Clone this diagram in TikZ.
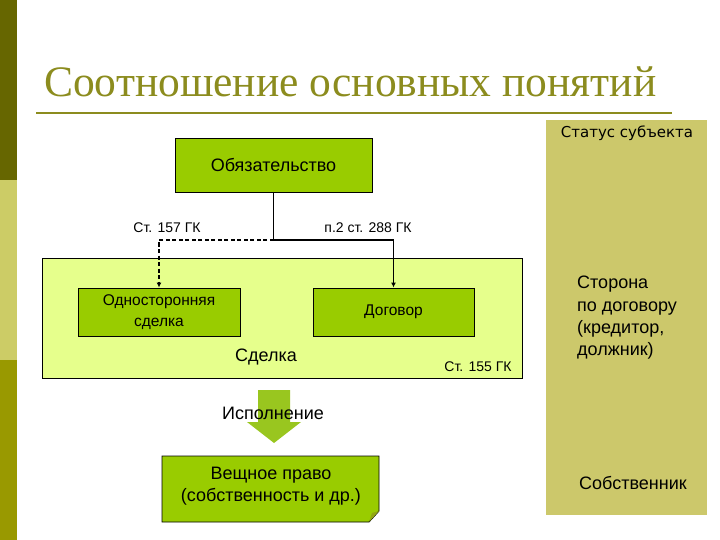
\documentclass[tikz,border=0pt]{standalone}
\usepackage{fontspec}
\usetikzlibrary{arrows.meta}
\setmainfont{Liberation Sans}
\newfontfamily\titlefont{Liberation Serif}
\newfontfamily\statusfont{DejaVu Sans}
\begin{document}
\begin{tikzpicture}[x=1pt,y=-1pt,
  greenbox/.style={draw=black, line width=0.9pt, fill=boxgreen, minimum width=#1, inner sep=0pt},
  lbl/.style={font=\fontsize{14}{16}\selectfont, inner sep=0pt},
  conn/.style={line width=1.6pt, -{Latex[length=5pt,width=5pt]}},
]
\definecolor{boxgreen}{HTML}{99CC00}
\definecolor{palegreen}{HTML}{E6FF8C}
\definecolor{olive}{HTML}{8C8C1E}
\definecolor{stripdark}{HTML}{666600}
\definecolor{striplight}{HTML}{CCCC66}
\definecolor{stripmid}{HTML}{999900}
\definecolor{panel}{HTML}{CCC86B}
\definecolor{arrowgreen}{HTML}{99C61F}
\useasboundingbox (0,0) rectangle (720,540);
\fill[white] (0,0) rectangle (720,540);
% left strip
\fill[stripdark] (0,0) rectangle (17,180);
\fill[striplight] (0,180) rectangle (17,360);
\fill[stripmid] (0,360) rectangle (17,540);
% title
\node[anchor=base west, text=olive, font=\titlefont\fontsize{43.5}{46}\selectfont, inner sep=0pt] (title) at (44,97) {Соотношение основных понятий};
\draw[olive, line width=2pt] (36,113.5) -- (672,113.5);
% right panel
\node[fill=panel, minimum width=161pt, minimum height=395pt, inner sep=0pt] (panel) at (626.5,317.5) {};
\node[font=\statusfont\fontsize{15}{17}\selectfont, inner sep=0pt] (status) at (627,133) {Статус субъекта};
\node[anchor=west, align=left, font=\fontsize{18}{22.3}\selectfont, inner sep=0pt] (side) at (577,318) {Сторона\\по договору\\(кредитор,\\должник)};
\node[font=\fontsize{18}{20}\selectfont, inner sep=0pt] (owner) at (633,483) {Собственник};
% boxes
\node[greenbox=197pt, minimum height=54pt, font=\fontsize{18}{20}\selectfont] (obl) at (273.5,165) {Обязательство};
\node[draw=black, line width=0.9pt, fill=palegreen, minimum width=480pt, minimum height=120pt, inner sep=0pt] (deal) at (282,318) {};
\node[greenbox=162pt, minimum height=48pt, align=center, font=\fontsize{15.5}{21}\selectfont] (odn) at (159,312) {Односторонняя\\сделка};
\node[greenbox=161pt, minimum height=48pt, font=\fontsize{15.5}{17}\selectfont] (dog) at (393.5,312) {Договор};
\node[font=\fontsize{18}{20}\selectfont, inner sep=0pt] (dealtxt) at (266,357) {Сделка};
\node[lbl] (c155) at (478,367) {Ст. 155 ГК};
% connectors
\coordinate (j) at (273.5,240);
\draw[line width=1.6pt] (obl.south) -- (j);
\draw[conn] (j) -| (dog.north);
\draw[conn, dashed, dash pattern=on 4pt off 2.5pt] (j) -| (odn.north);
\node[lbl] (c157) at (167,228) {Ст. 157 ГК};
\node[lbl] (c288) at (368,228) {п.2 ст. 288 ГК};
% block arrow
\fill[arrowgreen] (258,390) -- (290,390) -- (290,422) -- (301,422) -- (274,443) -- (247,422) -- (258,422) -- cycle;
\node[font=\fontsize{18}{20}\selectfont, inner sep=0pt] (isp) at (273,413) {Исполнение};
% Вещное право box with folded corner
\draw[fill=boxgreen, line width=0.9pt] (162,456) -- (379,456) -- (379,511) -- (369,522) -- (162,522) -- cycle;
\fill[olive!60!boxgreen] (379,511) -- (369,522) -- (372,513) -- cycle;
\node[align=center, font=\fontsize{18}{22}\selectfont, inner sep=0pt] (vesch) at (271,486) {Вещное право\\(собственность и др.)};
\end{tikzpicture}
\end{document}
